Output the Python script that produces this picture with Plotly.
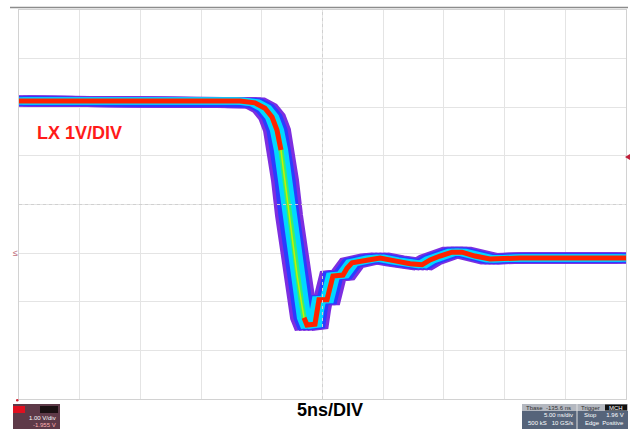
import plotly.graph_objects as go

# LX switch node, falling edge (1 V/div, 5 ns/div)
time_ns = [-25.0, -6.80, -5.56, -4.74, -4.16, -3.75, -3.42, -3.09, -2.76, -2.43,
           -2.10, -1.77, -1.52, -1.28, -0.62, -0.45, -0.29, 0.37, 0.62, 0.86,
           1.69, 2.02, 2.43, 3.91, 4.74, 5.97, 7.21, 8.20, 8.86, 9.68,
           10.67, 11.49, 12.56, 13.80, 16.27, 19.56, 25.0]
lx_volts = [3.13, 3.13, 3.09, 2.98, 2.80, 2.53, 2.12, 1.50, 0.78, 0.17,
            -0.45, -0.96, -1.33, -1.48, -1.46, -1.17, -0.96, -0.96, -0.72, -0.47,
            -0.45, -0.31, -0.20, -0.12, -0.10, -0.16, -0.22, -0.24, -0.14, -0.06,
            0.02, 0.02, -0.06, -0.12, -0.10, -0.10, -0.10]

trigger_level = 1.96
edge_window = (-3.35, -1.6)   # fast part of the edge, no red "hot" persistence there

# persistence layers: colour, width, time jitter copies (ns)
layers = [
    ("#7d2ee0", 11, [-0.7, -0.35, 0.0, 0.35, 0.7]),
    ("#2b3cff", 9, [-0.5, -0.25, 0.0, 0.25, 0.5]),
    ("#00d8ff", 7, [-0.3, 0.0, 0.3]),
    ("#36f070", 4, [-0.05, 0.05]),
    ("#c8f000", 1.5, [0.0]),
]

PLOT_L, PLOT_R, PLOT_T, PLOT_B = 19, 626, 10, 399


def px(x):
    return (x - PLOT_L) / (PLOT_R - PLOT_L)


def py(y):
    return (PLOT_B - y) / (PLOT_B - PLOT_T)


fig = go.Figure()

for color, width, offsets in layers:
    for off in offsets:
        fig.add_trace(go.Scatter(
            x=[t + off for t in time_ns],
            y=lx_volts,
            mode="lines",
            line=dict(color=color, width=width),
            hoverinfo="skip",
            showlegend=False,
        ))

red_v = [None if edge_window[0] < t < edge_window[1] else v
         for t, v in zip(time_ns, lx_volts)]
fig.add_trace(go.Scatter(
    x=time_ns,
    y=red_v,
    mode="lines",
    line=dict(color="#ff2200", width=5),
    connectgaps=False,
    hoverinfo="skip",
    showlegend=False,
))

shapes = [
    # top bezel line
    dict(type="line", xref="paper", yref="paper", x0=px(10), x1=px(628),
         y0=py(7.5), y1=py(7.5), line=dict(color="#8c8c8c", width=1.5)),
    # dotted centre graticule
    dict(type="line", xref="x", yref="paper", x0=0, x1=0, y0=0, y1=1,
         line=dict(color="#d0d0d0", width=1, dash="dot")),
    dict(type="line", xref="paper", yref="y", x0=0, x1=1, y0=1, y1=1,
         line=dict(color="#d0d0d0", width=1, dash="dot")),
    # trigger level marker
    dict(type="path", xref="paper", yref="paper",
         path=f"M {px(625)} {py(157)} L {px(630)} {py(154)} L {px(630)} {py(160)} Z",
         fillcolor="#c0203a", line=dict(width=0)),
    # red dot bottom-left
    dict(type="circle", xref="paper", yref="paper", x0=px(16), x1=px(18.5),
         y0=py(401.5), y1=py(399), fillcolor="#d02030", line=dict(width=0)),
    # channel box bottom-left
    dict(type="rect", xref="paper", yref="paper", x0=px(13), x1=px(60),
         y0=py(429), y1=py(404), fillcolor="#5e3a48", line=dict(width=0)),
    dict(type="rect", xref="paper", yref="paper", x0=px(13), x1=px(25),
         y0=py(413), y1=py(406), fillcolor="#e01020", line=dict(width=0)),
    dict(type="rect", xref="paper", yref="paper", x0=px(40), x1=px(58),
         y0=py(413), y1=py(406), fillcolor="#1a1012", line=dict(width=0)),
    # timebase / trigger box bottom-right
    dict(type="rect", xref="paper", yref="paper", x0=px(522), x1=px(628),
         y0=py(411), y1=py(404), fillcolor="#b4b8c0", line=dict(width=0)),
    dict(type="rect", xref="paper", yref="paper", x0=px(522), x1=px(628),
         y0=py(429), y1=py(411), fillcolor="#56647a", line=dict(width=0)),
    dict(type="rect", xref="paper", yref="paper", x0=px(605), x1=px(627),
         y0=py(410.5), y1=py(404.5), fillcolor="#111111", line=dict(width=0)),
    dict(type="line", xref="paper", yref="paper", x0=px(577), x1=px(577),
         y0=py(429), y1=py(404), line=dict(color="#e0e0e0", width=1)),
]

small = dict(family="Liberation Sans", size=6, color="#ffffff")
annotations = [
    dict(text="LX 1V/DIV", xref="paper", yref="paper", x=px(35), y=py(133),
         xanchor="left", yanchor="middle", showarrow=False,
         font=dict(family="Liberation Sans", size=18, color="#ff1a1a", weight="bold")),
    dict(text="5ns/DIV", xref="paper", yref="paper", x=px(330), y=py(410),
         xanchor="center", yanchor="middle", showarrow=False,
         font=dict(family="Liberation Sans", size=18, color="#000000", weight="bold")),
    dict(text="≤", xref="paper", yref="y", x=px(15), y=0,
         xanchor="center", yanchor="middle", showarrow=False,
         font=dict(family="Liberation Sans", size=9, color="#c07080")),
    dict(text="1.00 V/div", xref="paper", yref="paper", x=px(58), y=py(418),
         xanchor="right", yanchor="middle", showarrow=False, font=small),
    dict(text="-1.955 V", xref="paper", yref="paper", x=px(58), y=py(424.5),
         xanchor="right", yanchor="middle", showarrow=False,
         font=dict(family="Liberation Sans", size=6, color="#ffb0b0")),
    dict(text="Tbase  -135.6 ns", xref="paper", yref="paper", x=px(524), y=py(407.5),
         xanchor="left", yanchor="middle", showarrow=False,
         font=dict(family="Liberation Sans", size=6, color="#303030")),
    dict(text="Trigger", xref="paper", yref="paper", x=px(579), y=py(407.5),
         xanchor="left", yanchor="middle", showarrow=False,
         font=dict(family="Liberation Sans", size=6, color="#303030")),
    dict(text="MCH", xref="paper", yref="paper", x=px(616), y=py(407.5),
         xanchor="center", yanchor="middle", showarrow=False, font=small),
    dict(text="5.00 ns/div", xref="paper", yref="paper", x=px(575), y=py(415.5),
         xanchor="right", yanchor="middle", showarrow=False, font=small),
    dict(text="500 kS   10 GS/s", xref="paper", yref="paper", x=px(575), y=py(423.5),
         xanchor="right", yanchor="middle", showarrow=False, font=small),
    dict(text="Stop      1.96 V", xref="paper", yref="paper", x=px(626), y=py(415.5),
         xanchor="right", yanchor="middle", showarrow=False, font=small),
    dict(text="Edge  Positive", xref="paper", yref="paper", x=px(626), y=py(423.5),
         xanchor="right", yanchor="middle", showarrow=False, font=small),
]

fig.update_layout(
    width=631,
    height=429,
    margin=dict(l=PLOT_L, r=631 - PLOT_R, t=PLOT_T, b=429 - PLOT_B),
    paper_bgcolor="white",
    plot_bgcolor="white",
    shapes=shapes,
    annotations=annotations,
    xaxis=dict(range=[-25, 25], dtick=5, showticklabels=False, ticks="",
               showgrid=True, gridcolor="#e4e4e4", gridwidth=1, zeroline=False,
               showline=True, mirror=True, linecolor="#d2d2d2", linewidth=1),
    yaxis=dict(range=[-3, 5], dtick=1, showticklabels=False, ticks="",
               showgrid=True, gridcolor="#e4e4e4", gridwidth=1, zeroline=False,
               showline=True, mirror=True, linecolor="#d2d2d2", linewidth=1),
)

# the page's default body margin would push the figure off the window
fig.write_html("out.html", config={"displayModeBar": False},
               post_script="document.body.style.margin='0px';")
